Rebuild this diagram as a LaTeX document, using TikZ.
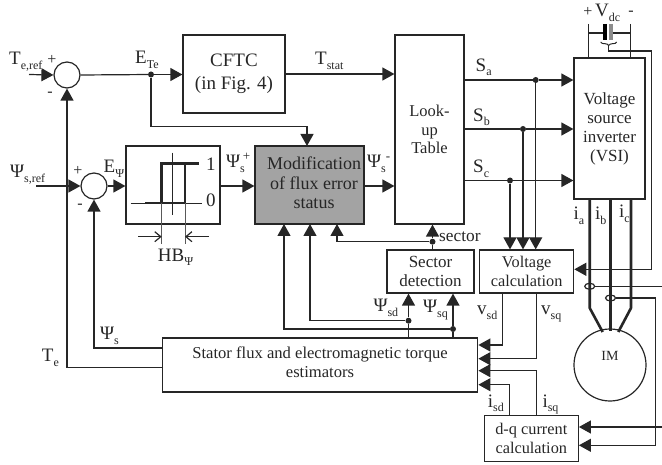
\documentclass[tikz,border=0pt]{standalone}
\usepackage{fontspec}
\setmainfont{Liberation Serif}
\usetikzlibrary{arrows.meta,decorations.pathreplacing,shapes.geometric}
\definecolor{ink}{HTML}{262626}
\newcommand{\dn}[1]{\raisebox{-0.22em}{\fontsize{12}{12}\selectfont #1}}
\newcommand{\upp}[1]{\raisebox{0.38em}{\fontsize{13}{13}\selectfont #1}}
\tikzset{
  x=1pt,y=-1pt,
  every node/.style={text=ink},
  wire/.style={draw=ink,line width=1.2pt},
  arr/.style={wire,-{Triangle[length=12pt,width=13pt]}},
  thickw/.style={draw=ink,line width=2.6pt},
  boxn/.style={draw=ink,line width=1.2pt,inner sep=0pt,align=center,font=\fontsize{17}{19}\selectfont},
  lab/.style={anchor=base west,inner sep=0pt,font=\fontsize{19}{20}\selectfont},
  sumn/.style={circle,draw=ink,line width=1.2pt,minimum size=26pt,inner sep=0pt},
  dot/.style={circle,fill=ink,minimum size=6pt,inner sep=0pt},
  sign/.style={inner sep=0pt,font=\fontsize{16}{16}\selectfont},
}
\begin{document}
\begin{tikzpicture}
\useasboundingbox (0,0) rectangle (662,465);
% blocks
\node[sumn] (s1) at (67,75) {};
\node[sumn] (s2) at (94,186) {};
\node[boxn,minimum width=102pt,minimum height=78pt,font=\fontsize{19}{23}\selectfont] (cftc) at (234,74) {CFTC\\(in Fig. 4)};
\node[boxn,minimum width=94pt,minimum height=78pt] (hyst) at (173,185) {};
\node[boxn,minimum width=109pt,minimum height=78pt,fill=black!36] (mod) at (309.5,185) {};
\node[inner sep=0pt,align=center,font=\fontsize{18}{19.5}\selectfont] (modt) at (314,183) {Modification\\of flux error\\status};
\node[boxn,minimum width=69pt,minimum height=189pt,font=\fontsize{16.5}{18.7}\selectfont] (lut) at (429.5,129.5) {Look-\\up\\Table};
\node[boxn,minimum width=71pt,minimum height=141pt] (vsi) at (609.5,128.5) {Voltage\\source\\inverter\\(VSI)};
\node[boxn,minimum width=87pt,minimum height=43pt] (sec) at (430.5,271.5) {Sector\\detection};
\node[boxn,minimum width=94pt,minimum height=43pt,font=\fontsize{16.3}{18.7}\selectfont] (vc) at (526.7,271.5) {Voltage\\calculation};
\node[boxn,minimum width=315pt,minimum height=54pt] (est) at (320.3,365) {};
\node[inner sep=0pt,align=center,font=\fontsize{16.6}{19}\selectfont] (estt) at (320,362) {Stator flux and electromagnetic torque\\estimators};
\node[boxn,minimum width=94pt,minimum height=46pt,font=\fontsize{16.3}{19}\selectfont] (dq) at (531.3,438.2) {d-q current\\calculation};
\node[circle,draw=ink,line width=1.2pt,minimum size=72pt,inner sep=0pt] (im) at (610,365) {};
\node[inner sep=0pt,font=\fontsize{14}{15}\selectfont] (imt) at (610,355.5) {IM};
% coordinates
\coordinate (teref) at (29,74.5);
\coordinate (psref) at (36,186);
\node[dot] (d1) at (151,74.5) {};
\node[dot] (da) at (535.7,80) {};
\node[dot] (db) at (523,129) {};
\node[dot] (dc) at (510,180.5) {};
\node[dot] (dsec) at (432.5,241.7) {};
\node[dot] (dsd) at (408.5,320.7) {};
\node[dot] (dsq) at (453,329) {};
% main forward path
\draw[arr] (teref) -- (s1.west);
\draw[wire] (s1.east) -- (d1);
\draw[arr] (d1) -- (cftc.west |- d1);
\coordinate (modtop) at (307,146);
\draw[arr] (d1) |- (151,126.5) -| (modtop);
\draw[arr] (cftc.east |- 0,74) -- (lut.west |- 0,74);
\draw[arr] (psref) -- (s2.west);
\draw[arr] (s2.east) -- (hyst.west |- s2);
\draw[arr] (hyst.east |- s2) -- (mod.west |- s2);
\draw[arr] (mod.east |- s2) -- (lut.west |- s2);
% switch signals
\draw[wire] (lut.east |- da) -- (da);
\draw[arr] (da) -- (vsi.west |- da);
\draw[wire] (lut.east |- db) -- (db);
\draw[arr] (db) -- (vsi.west |- db);
\draw[wire] (lut.east |- dc) -- (dc);
\draw[arr] (dc) -- (vsi.west |- dc);
\draw[arr] (da) -- (da |- vc.north);
\draw[arr] (db) -- (db |- vc.north);
\draw[arr] (dc) -- (dc |- vc.north);
% sector
\draw[wire] (sec.north -| dsec) -- (dsec);
\draw[arr] (dsec) -- (dsec |- lut.south);
\coordinate (modc) at (337,224);
\draw[arr] (dsec) -| (modc);
% flux feedback
\coordinate (modb) at (310,224);
\coordinate (moda) at (284,224);
\draw[arr] (dsd) -| (modb);
\draw[arr] (dsq) -| (moda);
\draw[arr] (dsd |- est.north) -- (dsd) -- (dsd |- sec.south);
\draw[arr] (dsq |- est.north) -- (dsq) -- (dsq |- sec.south);
\coordinate (pss) at (163,348);
\coordinate (tes) at (163,367.5);
\draw[arr] (pss) -| (s2.south);
\draw[arr] (tes) -| (s1.south);
% voltages and currents to estimator
\coordinate (vsdo) at (502.3,293);
\coordinate (vsqo) at (536.3,293);
\coordinate (isdo) at (509.3,415.2);
\coordinate (isqo) at (536.7,415.2);
\draw[arr] (vsdo) |- (est.east |- 0,345);
\draw[arr] (vsqo) |- (est.east |- 0,358.7);
\draw[arr] (isqo) |- (est.east |- 0,370.7);
\draw[arr] (isdo) |- (est.east |- 0,384.7);
% hysteresis glyph
\coordinate (hl) at (130.7,204);
\coordinate (hr) at (201.7,204);
\coordinate (ht) at (172.7,152.7);
\coordinate (hb) at (172.7,215);
\draw[wire,line width=1pt] (hl) -- (hr);
\draw[wire,line width=1pt] (ht) -- (hb);
\draw[thickw,line join=miter] (145,203) -- (185,203) -- (185,163.3);
\draw[thickw,line join=miter] (161.7,203) -- (161.7,163.3) -- (199.3,163.3);
\coordinate (hbl) at (161.7,244);
\coordinate (hbr) at (185,244);
\draw[draw=black!65,line width=1pt] (161.7,203) -- (hbl);
\draw[draw=black!65,line width=1pt] (185,203) -- (hbr);
\coordinate (ha) at (138,236.7);
\coordinate (hc) at (209,236.7);
\draw[wire,-{Straight Barb[length=6pt,width=10pt]}] (ha) -- (hbl |- ha);
\draw[wire,-{Straight Barb[length=6pt,width=10pt]}] (hc) -- (hbr |- hc);
% dc link
\coordinate (dcp) at (588.3,24);
\coordinate (dcn) at (630.3,24);
\draw[wire] (dcp) -- (dcp |- vsi.north);
\draw[wire] (dcn) -- (dcn |- vsi.north);
\draw[wire] (dcp |- 0,33) -- (603,33);
\draw[wire] (612,33) -- (dcn |- 0,33);
\draw[draw=black,line width=4pt] (605,24) -- (605,40);
\draw[draw=black!45,line width=4pt] (611,24) -- (611,40);
\draw[wire,line width=1pt,decorate,decoration={brace,amplitude=3.5pt,mirror,raise=0pt}] (600.7,42) -- (616.7,42);
\coordinate (fb1) at (608,46);
\coordinate (fb2) at (651.7,51);
\draw[wire,line width=1pt] (fb1) -- (608,51);
\draw[thickw,line width=2pt] (608,51) -- (fb2);
\draw[arr] (fb2) |- (vc.east |- 0,269.3);
% motor phases
\coordinate (ma) at (602.7,332);
\coordinate (mb) at (610.3,331);
\coordinate (mc) at (618.3,332);
\draw[thickw,line join=round] (589.7,199) -- (589.7,308) -- (ma);
\draw[thickw] (610.3,199) -- (mb);
\draw[thickw,line join=round] (631,199) -- (631,308) -- (mc);
% sensors
\node[ellipse,draw=ink,line width=1.2pt,minimum width=10pt,minimum height=6pt,inner sep=0pt] (cta) at (589.7,286.3) {};
\node[ellipse,draw=ink,line width=1.2pt,minimum width=10pt,minimum height=6pt,inner sep=0pt] (ctb) at (610.5,298) {};
\coordinate (ea) at (662,286.3);
\coordinate (eb) at (662,427);
\coordinate (cb) at (655.7,298);
\draw[wire] (cta.east) -- (ea);
\draw[arr] (eb) -- (dq.east |- eb);
\draw[arr] (ctb.east) -- (cb) |- (dq.east |- 0,445.3);
% labels
\node[lab] (l1) at (9,65) {T\dn{e,ref}};
\node[sign] (l2) at (52,59.5) {+};
\node[sign] (l3) at (50,94) {-};
\node[lab] (l4) at (135,64) {E\dn{Te}};
\node[lab] (l5) at (315,65) {T\dn{stat}};
\node[lab] (l6) at (10,178) {Ψ\dn{s,ref}};
\node[sign] (l7) at (78,171) {+};
\node[sign] (l8) at (80,206) {-};
\node[lab] (l9) at (103.5,173) {E\dn{Ψ}};
\node[lab] (l10) at (226,168) {Ψ\dn{s}\kern-2pt\upp{+}};
\node[lab] (l11) at (367,168) {Ψ\dn{s}\upp{-}};
\node[lab] (l12) at (475.5,71.7) {S\dn{a}};
\node[lab] (l13) at (473,121.6) {S\dn{b}};
\node[lab] (l14) at (473,173) {S\dn{c}};
\node[sign] (l15) at (588,12) {+};
\node[lab] (l16) at (595,17) {V\dn{dc}};
\node[sign] (l17) at (631,13) {-};
\node[lab] (l18) at (573.5,220) {i\dn{a}};
\node[lab] (l19) at (595,220) {i\dn{b}};
\node[lab] (l20) at (619,218) {i\dn{c}};
\node[lab,font=\fontsize{17.3}{18}\selectfont] (l21) at (439,241.7) {sector};
\node[lab] (l22) at (373.3,312) {Ψ\dn{sd}};
\node[lab] (l23) at (423,313) {Ψ\dn{sq}};
\node[lab] (l24) at (477,315) {v\dn{sd}};
\node[lab] (l25) at (541,315) {v\dn{sq}};
\node[lab] (l26) at (487.7,407.7) {i\dn{sd}};
\node[lab] (l27) at (542.3,407.7) {i\dn{sq}};
\node[lab] (l28) at (100,340) {Ψ\dn{s}};
\node[lab] (l29) at (41.7,362) {T\dn{e}};
\node[lab] (l30) at (157.7,261.7) {HB\dn{Ψ}};
\node[lab] (l31) at (206,170.7) {1};
\node[lab] (l32) at (206,207) {0};
\end{tikzpicture}
\end{document}
